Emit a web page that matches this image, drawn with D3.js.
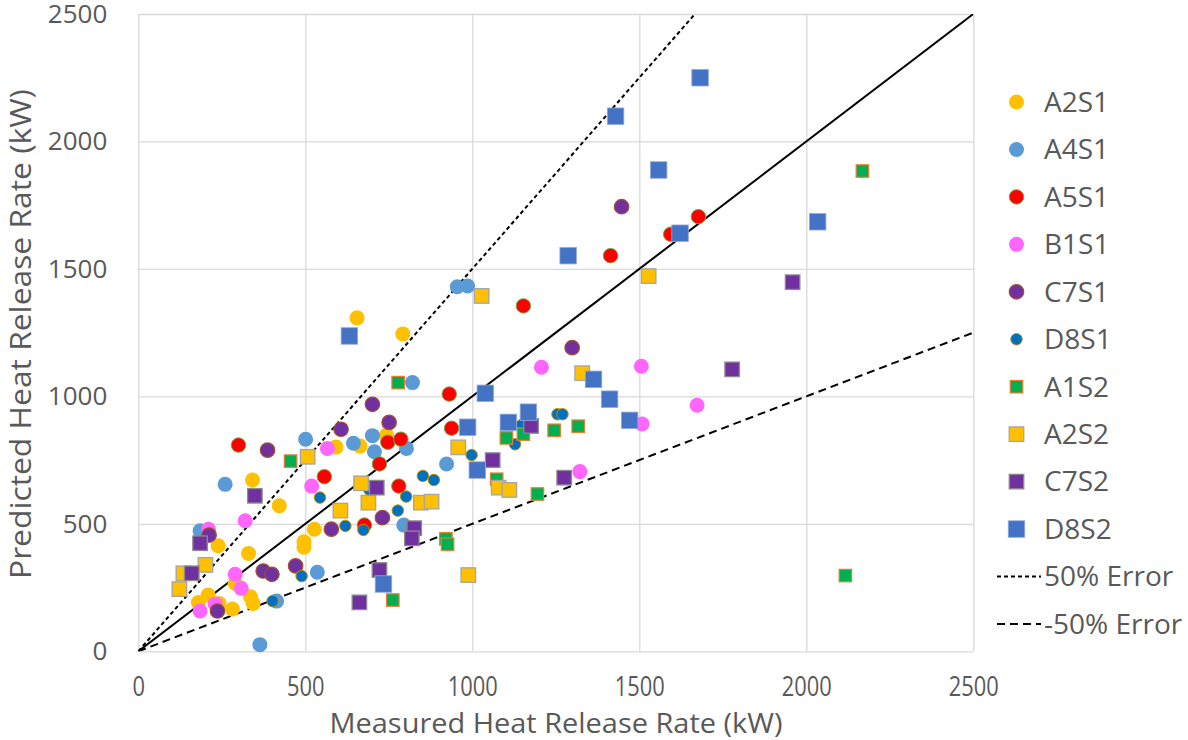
<!DOCTYPE html>
<html>
<head>
<meta charset="utf-8">
<script src="https://cdn.jsdelivr.net/npm/d3@7/dist/d3.min.js"></script>
<style>
  body { margin: 0; background: #fff; }
  text { font-family: "Open Sans", sans-serif; fill: #595959; }
</style>
</head>
<body>
<script>
// measured vs predicted HRR (kW)
const A2S1 = [[655,1308],[792,1245],[592,801],[664,805],[743,848],[342,672],[422,571],[527,479],[496,430],[496,408],[239,414],[330,384],[290,267],[336,214],[344,188],[282,166],[209,221],[180,191],[242,188]];
const A4S1 = [[955,1430],[986,1433],[821,1054],[501,832],[644,816],[701,846],[707,783],[803,796],[260,655],[185,473],[536,310],[414,197],[364,26],[795,495],[923,735]];
const A5S1 = [[300,809],[747,820],[786,832],[722,735],[557,685],[780,648],[677,495],[1414,1552],[1153,1355],[931,1009],[938,875],[1594,1636],[1677,1705]];
const B1S1 = [[566,796],[519,648],[320,512],[210,479],[290,302],[308,247],[230,186],[185,158],[1207,1114],[1506,1118],[1673,965],[1508,892],[1322,705]];
const C7S1 = [[701,969],[751,898],[607,871],[387,789],[212,456],[578,479],[731,524],[374,315],[400,302],[471,335],[237,158],[1299,1191],[1447,1744]];
const D8S1 = [[544,603],[692,633],[802,607],[852,688],[777,552],[620,492],[674,476],[489,295],[402,197],[885,672],[998,770],[1255,930],[1270,930],[1128,812],[1148,888]];
const A1S2 = [[778,1054],[456,746],[762,201],[921,441],[926,420],[1073,675],[1195,617],[1102,837],[1153,852],[1245,867],[1317,883],[2168,1884],[2117,297]];
const A2S2 = [[507,763],[667,659],[689,583],[846,583],[605,552],[201,339],[135,306],[123,244],[878,587],[958,800],[1079,642],[1111,633],[988,299],[1028,1394],[1528,1472],[1329,1091]];
const C7S2 = [[349,610],[714,642],[185,424],[160,306],[826,483],[819,443],[722,319],[662,192],[1061,750],[1275,681],[1176,884],[1959,1448],[1778,1106]];
const D8S2 = [[632,1237],[734,264],[1015,711],[1039,1012],[986,879],[1108,898],[1168,938],[1363,1067],[1411,989],[1471,906],[1287,1552],[1429,2099],[1558,1888],[1622,1640],[1682,2250],[2034,1685]];

const seriesNames = ["A2S1","A4S1","A5S1","B1S1","C7S1","D8S1","A1S2","A2S2","C7S2","D8S2"];
const seriesData = [A2S1, A4S1, A5S1, B1S1, C7S1, D8S1, A1S2, A2S2, C7S2, D8S2];
const errorNames = ["50% Error", "-50% Error"];
const errorFactors = [1.5, 0.5];
const ticks = [0, 500, 1000, 1500, 2000, 2500];

// marker look per series
const markerStyle = {
  A2S1: {shape: "circle", size: 15,   fill: "#FFC000", stroke: "none",    sw: 0},
  A4S1: {shape: "circle", size: 15,   fill: "#5B9BD5", stroke: "none",    sw: 0},
  A5S1: {shape: "circle", size: 14.5, fill: "#FF0000", stroke: "#70AD47", sw: 1},
  B1S1: {shape: "circle", size: 15,   fill: "#FF66FF", stroke: "none",    sw: 0},
  C7S1: {shape: "circle", size: 14.5, fill: "#7030A0", stroke: "#A0522D", sw: 1.2},
  D8S1: {shape: "circle", size: 11.5, fill: "#0070C0", stroke: "#BF9000", sw: 1},
  A1S2: {shape: "square", size: 12.5, fill: "#00B050", stroke: "#ED7D31", sw: 1.2},
  A2S2: {shape: "square", size: 14.5, fill: "#FFC000", stroke: "#A5A5A5", sw: 1.3},
  C7S2: {shape: "square", size: 14.5, fill: "#7030A0", stroke: "#8C8C8C", sw: 1.3},
  D8S2: {shape: "square", size: 16.5, fill: "#4472C4", stroke: "#8FAADC", sw: 0.8}
};
const errorDash = ["4,3", "8,5"];

const width = 1188, height = 740;
const plot = {left: 138.3, right: 973.3, top: 14, bottom: 651.3};

const svg = d3.select("body").append("svg")
    .attr("width", width)
    .attr("height", height);

const x = d3.scaleLinear().domain([0, 2500]).range([plot.left, plot.right]);
const y = d3.scaleLinear().domain([0, 2500]).range([plot.bottom, plot.top]);

// grid
svg.append("g")
    .attr("transform", `translate(0,${plot.bottom})`)
    .call(d3.axisBottom(x).tickValues(ticks).tickSize(-(plot.bottom - plot.top)).tickFormat(""))
    .call(g => g.select(".domain").remove())
    .selectAll("line").attr("stroke", "#D9D9D9").attr("stroke-width", 1.3);
svg.append("g")
    .attr("transform", `translate(${plot.left},0)`)
    .call(d3.axisLeft(y).tickValues(ticks).tickSize(-(plot.right - plot.left)).tickFormat(""))
    .call(g => g.select(".domain").remove())
    .selectAll("line").attr("stroke", "#D9D9D9").attr("stroke-width", 1.3);

// tick labels (x ones are narrower in the original)
svg.append("g")
    .attr("transform", `translate(0,${plot.bottom})`)
    .call(d3.axisBottom(x).tickValues(ticks).tickSize(0).tickPadding(25).tickFormat(d3.format("d")))
    .call(g => g.select(".domain").remove())
    .selectAll("text")
    .style("font-size", "28px")
    .attr("fill", "#595959")
    .attr("transform", "scale(0.78,1)");
svg.append("g")
    .attr("transform", `translate(${plot.left},0)`)
    .call(d3.axisLeft(y).tickValues(ticks).tickSize(0).tickPadding(31).tickFormat(d3.format("d")))
    .call(g => g.select(".domain").remove())
    .selectAll("text").style("font-size", "26px").attr("fill", "#595959");

// axis titles
svg.append("text")
    .attr("x", 556)
    .attr("y", 733)
    .attr("text-anchor", "middle")
    .style("font-size", "28px")
    .attr("textLength", 453)
    .attr("lengthAdjust", "spacingAndGlyphs")
    .text("Measured Heat Release Rate (kW)");
svg.append("text")
    .attr("transform", "translate(31,334) rotate(-90)")
    .attr("text-anchor", "middle")
    .style("font-size", "30px")
    .attr("textLength", 490)
    .attr("lengthAdjust", "spacingAndGlyphs")
    .text("Predicted Heat Release Rate (kW)");

// reference lines
svg.append("clipPath").attr("id", "clip")
  .append("rect")
    .attr("x", plot.left).attr("y", plot.top)
    .attr("width", plot.right - plot.left).attr("height", plot.bottom - plot.top);

const line = d3.line().x(d => x(d[0])).y(d => y(d[1]));
const lines = svg.append("g").attr("clip-path", "url(#clip)");
lines.append("path")
    .attr("d", line([[0, 0], [2500, 2500]]))
    .attr("stroke", "#000").attr("stroke-width", 2).attr("fill", "none");
errorFactors.forEach((k, i) => {
  lines.append("path")
      .attr("d", line([[0, 0], [2500, 2500 * k]]))
      .attr("stroke", "#000").attr("stroke-width", 2)
      .attr("stroke-dasharray", errorDash[i]).attr("fill", "none");
});

function drawMarker(g, st, cx, cy) {
  if (st.shape === "circle") {
    g.append("circle").attr("cx", cx).attr("cy", cy).attr("r", st.size / 2)
        .attr("fill", st.fill).attr("stroke", st.stroke).attr("stroke-width", st.sw);
  } else {
    g.append("rect").attr("x", cx - st.size / 2).attr("y", cy - st.size / 2)
        .attr("width", st.size).attr("height", st.size)
        .attr("fill", st.fill).attr("stroke", st.stroke).attr("stroke-width", st.sw);
  }
}

// markers
seriesNames.forEach((name, i) => {
  const g = svg.append("g").attr("class", "series");
  seriesData[i].forEach(d => drawMarker(g, markerStyle[name], x(d[0]), y(d[1])));
});

// legend
const legendTop = 102, legendStep = 47.45;
const legend = svg.append("g");
seriesNames.forEach((name, i) => {
  const ly = legendTop + i * legendStep;
  drawMarker(legend, markerStyle[name], 1016.5, ly);
  legend.append("text").attr("x", 1044).attr("y", ly).attr("dy", "0.35em")
      .style("font-size", "28px").text(name);
});
errorNames.forEach((name, i) => {
  const ly = legendTop + (seriesNames.length + i) * legendStep;
  legend.append("line").attr("x1", 997).attr("x2", 1041).attr("y1", ly).attr("y2", ly)
      .attr("stroke", "#000").attr("stroke-width", 2).attr("stroke-dasharray", errorDash[i]);
  legend.append("text").attr("x", 1044).attr("y", ly).attr("dy", "0.35em")
      .style("font-size", "28px").text(name);
});
</script>
</body>
</html>
